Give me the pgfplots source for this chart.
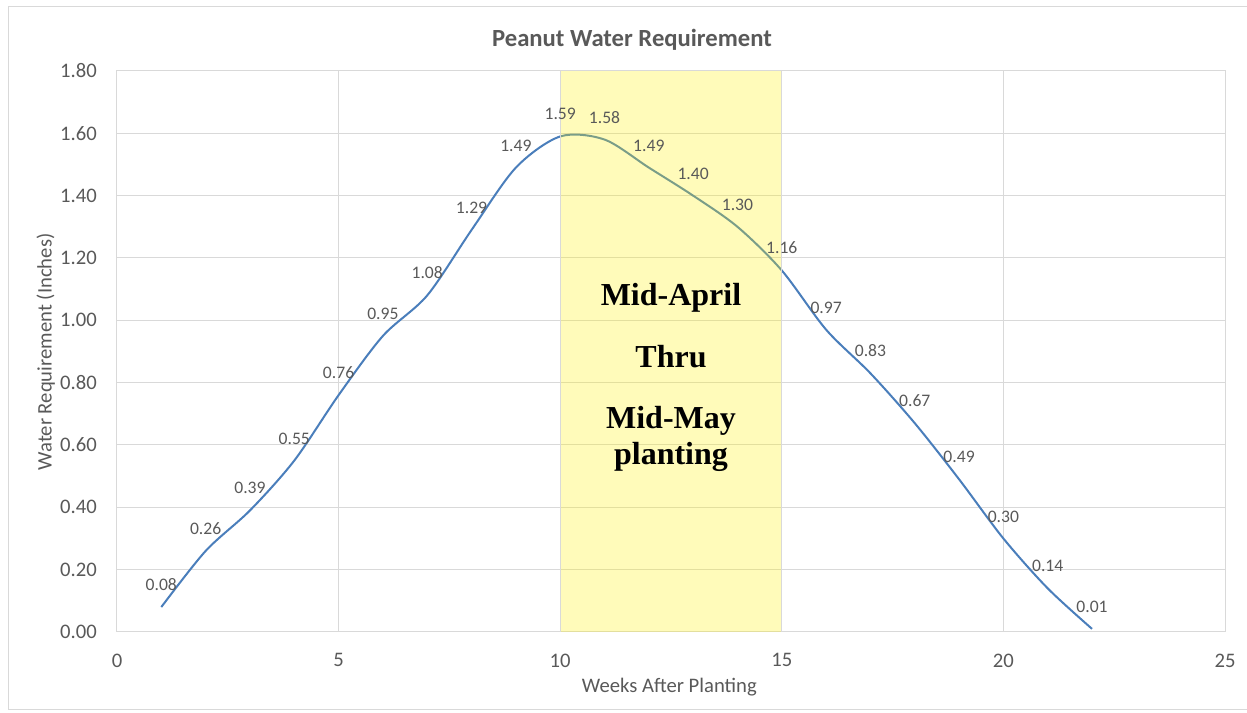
\documentclass[border=0pt]{standalone}
\usepackage{fontspec}
\setmainfont{Carlito}
\newfontfamily\timesfont{Liberation Serif}
\usepackage{pgfplots}
\pgfplotsset{compat=1.18}
\definecolor{txtgray}{RGB}{89,89,89}
\definecolor{gridgray}{RGB}{217,217,217}
\definecolor{lineblue}{RGB}{74,126,187}
\pgfplotstableread{
x y
1 0.08
2 0.26
3 0.39
4 0.55
5 0.76
6 0.95
7 1.08
8 1.29
9 1.49
10 1.59
11 1.58
12 1.49
13 1.40
14 1.30
15 1.16
16 0.97
17 0.83
18 0.67
19 0.49
20 0.30
21 0.14
22 0.01
}\datatable
\begin{document}
\begin{tikzpicture}
\useasboundingbox (0,0) rectangle (935.25pt,534.75pt);
\draw[gridgray, line width=0.75pt] (945pt,529.5pt) -- (6pt,529.5pt) -- (6pt,2.25pt) -- (945pt,2.25pt);
\begin{axis}[
  at={(87.75pt,60.75pt)}, anchor=south west,
  scale only axis, width=831pt, height=420.75pt,
  xmin=0, xmax=25, ymin=0, ymax=1.8,
  xtick={0,5,10,15,20,25},
  ytick={0,0.2,0.4,0.6,0.8,1.0,1.2,1.4,1.6,1.8},
  grid=major,
  major grid style={draw=gridgray, line width=0.75pt},
  axis line style={draw=gridgray, line width=0.75pt},
  tick style={draw=none},
  /pgf/number format/assume math mode=true,
  ticklabel style={font=\fontsize{15.5}{18}\selectfont, text=txtgray, inner sep=0pt},
  yticklabel style={anchor=east, xshift=-15pt, /pgf/number format/.cd, fixed, fixed zerofill, precision=2},
  xticklabel style={anchor=north, yshift=-16pt},
  clip=false,
]
\addplot[lineblue, line width=1.5pt, smooth, tension=0.5,
  nodes near coords={\pgfmathprintnumber[fixed,fixed zerofill,precision=2,assume math mode=true]{\pgfplotspointmeta}},
  point meta=y,
  every node near coord/.append style={font=\fontsize{13.2}{15}\selectfont, text=txtgray, anchor=south, inner sep=0pt, yshift=11.5pt},
] table[x=x,y=y] {\datatable};
\fill[yellow, fill opacity=0.27] (axis cs:10,0) rectangle (axis cs:15,1.8);
\draw[gridgray, line width=0.75pt] (axis cs:10,0) -- (axis cs:10,1.8);
\draw[gridgray, line width=0.75pt] (axis cs:15,0) -- (axis cs:15,1.8);
\node[font=\timesfont\bfseries\fontsize{24}{28}\selectfont, anchor=base] at (axis cs:12.5,1.047) {Mid-April};
\node[font=\timesfont\bfseries\fontsize{24}{28}\selectfont, anchor=base] at (axis cs:12.5,0.850) {Thru};
\node[font=\timesfont\bfseries\fontsize{24}{28}\selectfont, anchor=base] at (axis cs:12.5,0.6545) {Mid-May};
\node[font=\timesfont\bfseries\fontsize{24}{28}\selectfont, anchor=base] at (axis cs:12.5,0.536) {planting};
\end{axis}
\node[anchor=base, font=\bfseries\fontsize{18.5}{22}\selectfont, text=txtgray] at (474pt,499.5pt) {Peanut Water Requirement};
\node[anchor=base, font=\fontsize{15.5}{18}\selectfont, text=txtgray] at (502pt,15pt) {Weeks After Planting};
\node[anchor=base, rotate=90, font=\fontsize{15.5}{18}\selectfont, text=txtgray] at (38.8pt,270.75pt) {Water Requirement (Inches)};
\end{tikzpicture}
\end{document}
